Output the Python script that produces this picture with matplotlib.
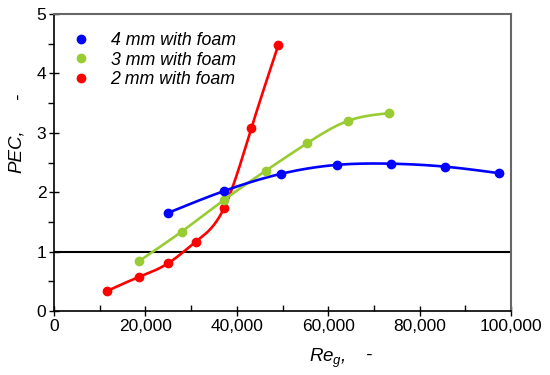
import numpy as np
import matplotlib
matplotlib.use("Agg")
import matplotlib.pyplot as plt
from matplotlib.ticker import MultipleLocator, FuncFormatter
from matplotlib.lines import Line2D

plt.rcParams['font.family'] = ['Liberation Sans', 'DejaVu Sans']
plt.rcParams['mathtext.fontset'] = 'custom'
plt.rcParams['mathtext.it'] = 'Liberation Sans:italic'
plt.rcParams['mathtext.rm'] = 'Liberation Sans'

re_4mm = [24900, 37200, 49700, 61900, 73700, 85600, 97400]
pec_4mm = [1.65, 2.02, 2.31, 2.46, 2.48, 2.43, 2.32]
re_3mm = [18600, 27900, 37200, 46300, 55300, 64300, 73400]
pec_3mm = [0.84, 1.335, 1.87, 2.36, 2.82, 3.20, 3.33]
re_2mm = [11700, 18500, 24900, 31100, 37200, 43200, 49100]
pec_2mm = [0.34, 0.57, 0.80, 1.17, 1.73, 3.08, 4.48]
labels = ['4 mm with foam', '3 mm with foam', '2 mm with foam']
colors = ['#0000ff', '#99cc33', '#ff0000']


def natural_spline(x, y, n=200):
    x = np.asarray(x, float); y = np.asarray(y, float)
    k = len(x); h = np.diff(x)
    A = np.zeros((k, k)); b = np.zeros(k)
    A[0, 0] = A[-1, -1] = 1
    for i in range(1, k - 1):
        A[i, i - 1] = h[i - 1]; A[i, i] = 2 * (h[i - 1] + h[i]); A[i, i + 1] = h[i]
        b[i] = 3 * ((y[i + 1] - y[i]) / h[i] - (y[i] - y[i - 1]) / h[i - 1])
    c = np.linalg.solve(A, b)
    xs = np.linspace(x[0], x[-1], n); ys = np.empty_like(xs)
    for j, xv in enumerate(xs):
        i = min(np.searchsorted(x, xv, side='right') - 1, k - 2)
        dx = xv - x[i]
        bi = (y[i + 1] - y[i]) / h[i] - h[i] * (2 * c[i] + c[i + 1]) / 3
        di = (c[i + 1] - c[i]) / (3 * h[i])
        ys[j] = y[i] + bi * dx + c[i] * dx ** 2 + di * dx ** 3
    return xs, ys


W, H = 550, 375
fig = plt.figure(figsize=(5.5, 3.75), dpi=100)
ax = fig.add_axes([54 / W, 64 / H, 457 / W, 297 / H])

ax.axhline(1, color='black', lw=1.5, zorder=1)
for xs, ys, c in [(re_2mm, pec_2mm, colors[2]), (re_3mm, pec_3mm, colors[1]), (re_4mm, pec_4mm, colors[0])]:
    sx, sy = natural_spline(xs, ys)
    ax.plot(sx, sy, color=c, lw=1.9, zorder=2)
    ax.plot(xs, ys, 'o', color=c, ms=6, zorder=3)

ax.set_xlim(0, 100000)
ax.set_ylim(0, 5)
ax.xaxis.set_major_locator(MultipleLocator(20000))
ax.xaxis.set_minor_locator(MultipleLocator(10000))
ax.yaxis.set_major_locator(MultipleLocator(1))
ax.yaxis.set_minor_locator(MultipleLocator(0.5))
ax.xaxis.set_major_formatter(FuncFormatter(lambda v, p: f"{int(v):,}"))
ax.tick_params(axis='both', which='major', direction='inout', length=7, width=1, labelsize=12.5, colors='black')
ax.tick_params(axis='x', which='minor', direction='in', length=4, width=1)
ax.tick_params(axis='y', which='minor', direction='out', length=4, width=1)
ax.tick_params(axis='x', which='major', pad=2)
ax.tick_params(axis='y', which='major', pad=2)
for s in ['left', 'bottom']:
    ax.spines[s].set_color('black'); ax.spines[s].set_linewidth(1.2)
for s in ['top', 'right']:
    ax.spines[s].set_color('#666666'); ax.spines[s].set_linewidth(1.5)

# axis titles
fig.text(309 / W, 1 - 362 / H, r'$Re_g$,', fontsize=13.5, style='italic', ha='left', va='baseline')
fig.text(368 / W, 1 - 355 / H, '-', fontsize=13.5, style='italic', ha='center', va='center')
fig.text(16 / W, 1 - 173 / H, 'PEC,', fontsize=13.5, style='italic', rotation=90, ha='center', va='bottom')
fig.text(18 / W, 1 - 97 / H, '-', fontsize=13.5, style='italic', rotation=90, ha='center', va='center')

handles = [Line2D([], [], ls='none', marker='o', color=c, ms=6) for c in colors]
leg = ax.legend(handles, labels, loc='upper left', bbox_to_anchor=(0.039, 0.939), frameon=False,
                prop={'size': 12.8, 'style': 'italic'}, handletextpad=1.18, labelspacing=0.14,
                handlelength=1.0, borderpad=0, borderaxespad=0)
fig.savefig('out.png', dpi=100)
